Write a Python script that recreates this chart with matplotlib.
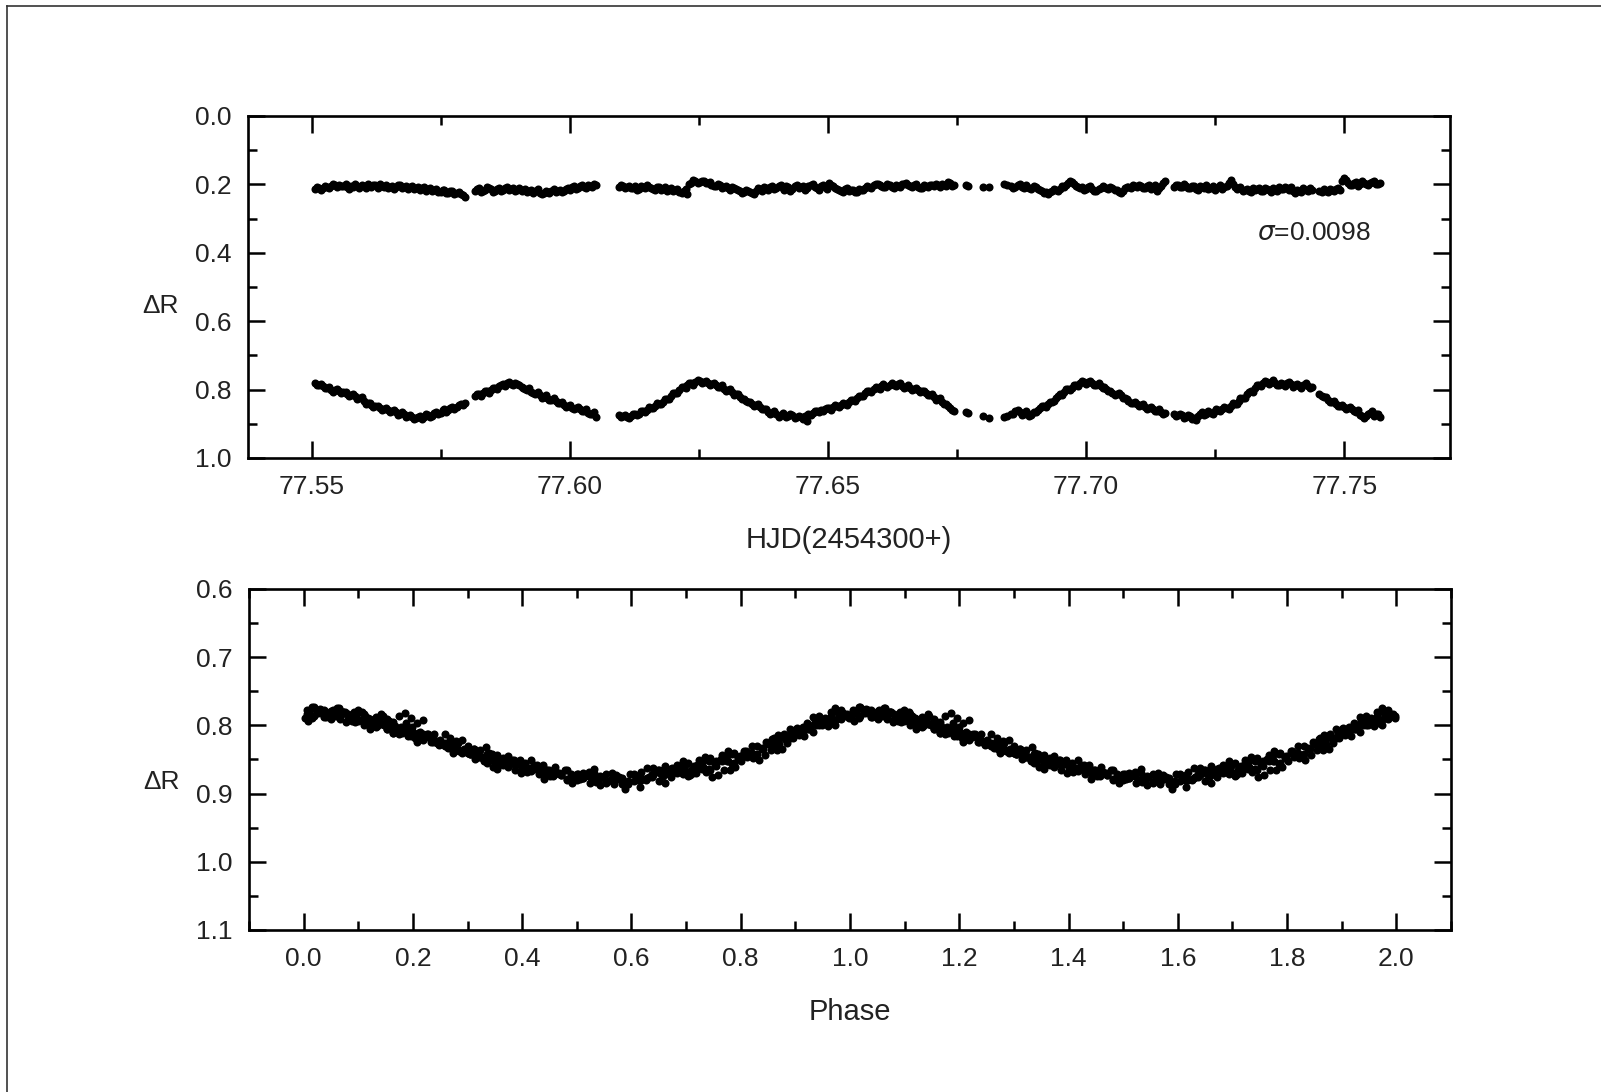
import matplotlib
matplotlib.use("Agg")
import matplotlib.pyplot as plt
from matplotlib.lines import Line2D
from matplotlib.ticker import MultipleLocator, FormatStrFormatter
import numpy as np

plt.rcParams['font.family'] = ['Liberation Sans', 'DejaVu Sans']

# HJD - 2454300
hjd = [
    77.5506, 77.5514, 77.5521, 77.5529, 77.5537, 77.5545, 77.5553, 77.5561, 77.5568, 77.5576,
    77.5584, 77.5592, 77.5600, 77.5608, 77.5615, 77.5623, 77.5631, 77.5639, 77.5647, 77.5655,
    77.5662, 77.5670, 77.5678, 77.5686, 77.5694, 77.5702, 77.5709, 77.5717, 77.5725, 77.5733,
    77.5741, 77.5749, 77.5756, 77.5764, 77.5772, 77.5780, 77.5788, 77.5796,
    77.5815, 77.5823, 77.5831, 77.5839, 77.5847, 77.5854, 77.5862, 77.5870, 77.5878, 77.5886,
    77.5894, 77.5902, 77.5909, 77.5917, 77.5925, 77.5933, 77.5941, 77.5949, 77.5956, 77.5964,
    77.5972, 77.5980, 77.5988, 77.5996, 77.6003, 77.6011, 77.6019, 77.6027, 77.6035, 77.6043,
    77.6051,
    77.6094, 77.6102, 77.6110, 77.6118, 77.6126, 77.6133, 77.6141, 77.6149, 77.6157, 77.6165,
    77.6173, 77.6180, 77.6188, 77.6196, 77.6204, 77.6212, 77.6220, 77.6227, 77.6235, 77.6243,
    77.6251, 77.6259, 77.6267, 77.6274, 77.6282, 77.6290, 77.6298, 77.6306, 77.6314, 77.6321,
    77.6329, 77.6337, 77.6345, 77.6353, 77.6361, 77.6368, 77.6376, 77.6384, 77.6392, 77.6400,
    77.6408, 77.6415, 77.6423, 77.6431, 77.6439, 77.6447, 77.6455, 77.6462, 77.6470, 77.6478,
    77.6486, 77.6494, 77.6502, 77.6509, 77.6517, 77.6525, 77.6533, 77.6541, 77.6549, 77.6556,
    77.6564, 77.6572, 77.6580, 77.6588, 77.6596, 77.6603, 77.6611, 77.6619, 77.6627, 77.6635,
    77.6643, 77.6650, 77.6658, 77.6666, 77.6674, 77.6682, 77.6690, 77.6697, 77.6705, 77.6713,
    77.6721, 77.6729, 77.6737, 77.6744,
    77.6767, 77.6772, 77.6800, 77.6811, 77.6840, 77.6847,
    77.6855, 77.6863, 77.6871, 77.6879, 77.6886, 77.6894, 77.6902, 77.6910, 77.6918, 77.6926,
    77.6934, 77.6941, 77.6949, 77.6957, 77.6965, 77.6973, 77.6981, 77.6988, 77.6996, 77.7004,
    77.7012, 77.7020, 77.7028, 77.7035, 77.7043, 77.7051, 77.7059, 77.7067, 77.7075, 77.7082,
    77.7090, 77.7098, 77.7106, 77.7114, 77.7122, 77.7129, 77.7137, 77.7145, 77.7153,
    77.7170, 77.7178, 77.7186, 77.7194, 77.7201, 77.7209, 77.7217, 77.7225, 77.7233, 77.7241,
    77.7249, 77.7256, 77.7264, 77.7272, 77.7280, 77.7288, 77.7296, 77.7303, 77.7311, 77.7319,
    77.7327, 77.7335, 77.7343, 77.7350, 77.7358, 77.7366, 77.7374, 77.7382, 77.7390, 77.7397,
    77.7405, 77.7413, 77.7421, 77.7429, 77.7437, 77.7452, 77.7460, 77.7468, 77.7476, 77.7484,
    77.7492, 77.7499, 77.7507, 77.7515, 77.7523, 77.7531, 77.7539, 77.7546, 77.7554, 77.7562,
    77.7570,
    # in-between exposures
    77.5510, 77.5518, 77.5525, 77.5533, 77.5541, 77.5549, 77.5557, 77.5565, 77.5572, 77.5580,
    77.5588, 77.5596, 77.5604, 77.5612, 77.5619, 77.5627, 77.5635, 77.5643, 77.5651, 77.5659,
    77.5666, 77.5674, 77.5682, 77.5690, 77.5698, 77.5706, 77.5713, 77.5721, 77.5729, 77.5737,
    77.5745, 77.5753, 77.5760, 77.5768, 77.5776, 77.5784, 77.5792,
    77.5819, 77.5827, 77.5835, 77.5843, 77.5851, 77.5858, 77.5866, 77.5874, 77.5882, 77.5890,
    77.5898, 77.5906, 77.5913, 77.5921, 77.5929, 77.5937, 77.5945, 77.5953, 77.5960, 77.5968,
    77.5976, 77.5984, 77.5992, 77.6000, 77.6007, 77.6015, 77.6023, 77.6031, 77.6039, 77.6047,
    77.6098, 77.6106, 77.6114, 77.6122, 77.6130, 77.6137, 77.6145, 77.6153, 77.6161, 77.6169,
    77.6177, 77.6184, 77.6192, 77.6200, 77.6208, 77.6216, 77.6224, 77.6231, 77.6239, 77.6247,
    77.6255, 77.6263, 77.6271, 77.6278, 77.6286, 77.6294, 77.6302, 77.6310, 77.6318, 77.6325,
    77.6333, 77.6341, 77.6349, 77.6357, 77.6365, 77.6372, 77.6380, 77.6388, 77.6396, 77.6404,
    77.6412, 77.6419, 77.6427, 77.6435, 77.6443, 77.6451, 77.6459, 77.6466, 77.6474, 77.6482,
    77.6490, 77.6498, 77.6506, 77.6513, 77.6521, 77.6529, 77.6537, 77.6545, 77.6553, 77.6560,
    77.6568, 77.6576, 77.6584, 77.6592, 77.6600, 77.6607, 77.6615, 77.6623, 77.6631, 77.6639,
    77.6647, 77.6654, 77.6662, 77.6670, 77.6678, 77.6686, 77.6694, 77.6701, 77.6709, 77.6717,
    77.6725, 77.6733, 77.6741,
    77.6859, 77.6867, 77.6875, 77.6883, 77.6890, 77.6898, 77.6906, 77.6914, 77.6922, 77.6930,
    77.6938, 77.6945, 77.6953, 77.6961, 77.6969, 77.6977, 77.6985, 77.6992, 77.7000, 77.7008,
    77.7016, 77.7024, 77.7032, 77.7039, 77.7047, 77.7055, 77.7063, 77.7071, 77.7079, 77.7086,
    77.7094, 77.7102, 77.7110, 77.7118, 77.7126, 77.7133, 77.7141, 77.7149,
    77.7174, 77.7182, 77.7190, 77.7197, 77.7205, 77.7213, 77.7221, 77.7229, 77.7237, 77.7245,
    77.7252, 77.7260, 77.7268, 77.7276, 77.7284, 77.7292, 77.7299, 77.7307, 77.7315, 77.7323,
    77.7331, 77.7339, 77.7346, 77.7354, 77.7362, 77.7370, 77.7378, 77.7386, 77.7393, 77.7401,
    77.7409, 77.7417, 77.7425, 77.7433, 77.7456, 77.7464, 77.7472, 77.7480, 77.7488, 77.7495,
    77.7503, 77.7511, 77.7519, 77.7527, 77.7535, 77.7542, 77.7550, 77.7558, 77.7566,
]

# delta R of the variable
dr_var = [
    0.782, 0.786, 0.790, 0.794, 0.800, 0.802, 0.805, 0.808, 0.812, 0.817,
    0.819, 0.826, 0.832, 0.840, 0.846, 0.849, 0.855, 0.856, 0.861, 0.864,
    0.866, 0.870, 0.872, 0.877, 0.880, 0.884, 0.878, 0.881, 0.873, 0.876,
    0.866, 0.868, 0.858, 0.861, 0.852, 0.850, 0.842, 0.838,
    0.820, 0.813, 0.811, 0.805, 0.800, 0.794, 0.790, 0.784, 0.781, 0.783,
    0.780, 0.788, 0.794, 0.801, 0.806, 0.813, 0.816, 0.821, 0.824, 0.830,
    0.833, 0.840, 0.846, 0.849, 0.853, 0.855, 0.858, 0.862, 0.868, 0.872,
    0.879,
    0.874, 0.877, 0.881, 0.876, 0.872, 0.870, 0.864, 0.859, 0.853, 0.848,
    0.841, 0.835, 0.827, 0.819, 0.810, 0.800, 0.793, 0.786, 0.782, 0.779,
    0.776, 0.779, 0.781, 0.783, 0.787, 0.791, 0.797, 0.802, 0.808, 0.813,
    0.821, 0.828, 0.836, 0.842, 0.846, 0.851, 0.858, 0.865, 0.869, 0.872,
    0.875, 0.873, 0.876, 0.874, 0.879, 0.881, 0.876, 0.871, 0.868, 0.863,
    0.860, 0.858, 0.855, 0.851, 0.848, 0.844, 0.841, 0.837, 0.831, 0.826,
    0.819, 0.811, 0.803, 0.798, 0.794, 0.790, 0.789, 0.786, 0.788, 0.785,
    0.789, 0.792, 0.796, 0.798, 0.801, 0.805, 0.811, 0.815, 0.821, 0.827,
    0.836, 0.843, 0.855, 0.864,
    0.866, 0.869, 0.878, 0.883, 0.880, 0.876,
    0.872, 0.862, 0.866, 0.870, 0.868, 0.873, 0.866, 0.853, 0.848, 0.843,
    0.836, 0.826, 0.814, 0.806, 0.799, 0.794, 0.786, 0.782, 0.778, 0.777,
    0.781, 0.786, 0.789, 0.793, 0.803, 0.811, 0.814, 0.817, 0.826, 0.833,
    0.838, 0.842, 0.846, 0.850, 0.854, 0.857, 0.862, 0.865, 0.868,
    0.871, 0.875, 0.874, 0.879, 0.877, 0.882, 0.878, 0.866, 0.871, 0.868,
    0.864, 0.861, 0.857, 0.853, 0.848, 0.841, 0.833, 0.824, 0.814, 0.805,
    0.796, 0.786, 0.781, 0.778, 0.777, 0.780, 0.786, 0.784, 0.781, 0.783,
    0.788, 0.790, 0.786, 0.789, 0.792, 0.812, 0.823, 0.830, 0.836, 0.842,
    0.848, 0.851, 0.855, 0.858, 0.866, 0.873, 0.884, 0.870, 0.864, 0.872,
    0.879,
    # in-between exposures
    0.788, 0.783, 0.795, 0.793, 0.806, 0.798, 0.811, 0.806, 0.819, 0.813,
    0.828, 0.823, 0.841, 0.838, 0.852, 0.847, 0.861, 0.853, 0.867, 0.861,
    0.874, 0.866, 0.880, 0.874, 0.887, 0.879, 0.886, 0.872, 0.880, 0.868,
    0.872, 0.861, 0.866, 0.853, 0.856, 0.844, 0.846,
    0.814, 0.818, 0.805, 0.810, 0.796, 0.799, 0.786, 0.789, 0.777, 0.786,
    0.784, 0.792, 0.799, 0.796, 0.811, 0.807, 0.824, 0.816, 0.829, 0.824,
    0.838, 0.835, 0.850, 0.844, 0.858, 0.851, 0.863, 0.858, 0.872, 0.866,
    0.880, 0.873, 0.884, 0.870, 0.875, 0.863, 0.866, 0.852, 0.855, 0.840,
    0.842, 0.827, 0.828, 0.811, 0.809, 0.792, 0.795, 0.780, 0.786, 0.773,
    0.781, 0.774, 0.786, 0.781, 0.792, 0.787, 0.804, 0.797, 0.815, 0.812,
    0.827, 0.834, 0.835, 0.849, 0.842, 0.857, 0.856, 0.870, 0.864, 0.879,
    0.869, 0.880, 0.871, 0.884, 0.876, 0.886, 0.893, 0.874, 0.862, 0.866,
    0.864, 0.853, 0.859, 0.846, 0.852, 0.838, 0.845, 0.830, 0.834, 0.818,
    0.820, 0.804, 0.806, 0.792, 0.797, 0.784, 0.793, 0.780, 0.790, 0.781,
    0.795, 0.788, 0.801, 0.794, 0.808, 0.803, 0.817, 0.812, 0.829, 0.826,
    0.842, 0.847, 0.861,
    0.870, 0.859, 0.873, 0.864, 0.876, 0.866, 0.861, 0.847, 0.851, 0.836,
    0.834, 0.818, 0.816, 0.799, 0.801, 0.786, 0.789, 0.776, 0.783, 0.774,
    0.787, 0.781, 0.795, 0.799, 0.805, 0.816, 0.810, 0.824, 0.828, 0.840,
    0.836, 0.847, 0.841, 0.856, 0.851, 0.862, 0.858, 0.871,
    0.877, 0.870, 0.883, 0.873, 0.886, 0.890, 0.872, 0.874, 0.863, 0.870,
    0.858, 0.864, 0.851, 0.856, 0.840, 0.843, 0.825, 0.826, 0.806, 0.806,
    0.788, 0.789, 0.775, 0.783, 0.773, 0.787, 0.780, 0.790, 0.778, 0.791,
    0.783, 0.795, 0.782, 0.796, 0.819, 0.822, 0.835, 0.832, 0.847, 0.845,
    0.857, 0.851, 0.864, 0.861, 0.878, 0.876, 0.868, 0.877, 0.870,
]

# delta R of the comparison star (check)
dr_comp = [
    0.214, 0.212, 0.210, 0.208, 0.205, 0.203, 0.201, 0.205, 0.209, 0.204,
    0.200, 0.211, 0.206, 0.199, 0.209, 0.203, 0.198, 0.207, 0.212, 0.204,
    0.209, 0.201, 0.208, 0.213, 0.205, 0.210, 0.216, 0.208, 0.213, 0.219,
    0.214, 0.221, 0.217, 0.224, 0.219, 0.226, 0.229, 0.236,
    0.218, 0.212, 0.220, 0.209, 0.214, 0.219, 0.211, 0.216, 0.208, 0.214,
    0.218, 0.212, 0.217, 0.222, 0.215, 0.219, 0.224, 0.226, 0.221, 0.218,
    0.223, 0.215, 0.219, 0.212, 0.209, 0.213, 0.206, 0.208, 0.203, 0.207,
    0.202,
    0.207, 0.204, 0.209, 0.212, 0.206, 0.214, 0.208, 0.203, 0.211, 0.215,
    0.209, 0.213, 0.218, 0.212, 0.216, 0.221, 0.219, 0.228, 0.196, 0.191,
    0.194, 0.189, 0.197, 0.201, 0.206, 0.203, 0.209, 0.212, 0.207, 0.214,
    0.219, 0.223, 0.218, 0.224, 0.220, 0.214, 0.209, 0.216, 0.205, 0.211,
    0.203, 0.217, 0.209, 0.214, 0.201, 0.208, 0.215, 0.206, 0.199, 0.212,
    0.204, 0.209, 0.196, 0.205, 0.213, 0.218, 0.214, 0.219, 0.215, 0.221,
    0.217, 0.212, 0.208, 0.202, 0.198, 0.205, 0.209, 0.203, 0.211, 0.206,
    0.200, 0.196, 0.204, 0.203, 0.207, 0.210, 0.205, 0.201, 0.206, 0.203,
    0.199, 0.204, 0.196, 0.201,
    0.203, 0.205, 0.207, 0.209, 0.199, 0.201,
    0.205, 0.209, 0.199, 0.212, 0.207, 0.214, 0.209, 0.217, 0.224, 0.228,
    0.219, 0.215, 0.213, 0.208, 0.196, 0.192, 0.205, 0.212, 0.216, 0.209,
    0.213, 0.218, 0.211, 0.207, 0.214, 0.210, 0.217, 0.226, 0.212, 0.207,
    0.203, 0.209, 0.205, 0.210, 0.201, 0.208, 0.218, 0.204, 0.189,
    0.207, 0.201, 0.209, 0.204, 0.212, 0.206, 0.215, 0.209, 0.203, 0.211,
    0.216, 0.208, 0.213, 0.205, 0.188, 0.207, 0.212, 0.219, 0.214, 0.221,
    0.216, 0.210, 0.218, 0.213, 0.222, 0.215, 0.209, 0.214, 0.211, 0.207,
    0.224, 0.218, 0.212, 0.220, 0.215, 0.219, 0.214, 0.221, 0.217, 0.213,
    0.216, 0.182, 0.197, 0.201, 0.194, 0.199, 0.196, 0.202, 0.193, 0.198,
    0.195,
    # in-between exposures
    0.209, 0.216, 0.206, 0.211, 0.199, 0.207, 0.204, 0.198, 0.213, 0.207,
    0.204, 0.203, 0.212, 0.206, 0.201, 0.210, 0.206, 0.202, 0.207, 0.214,
    0.203, 0.211, 0.204, 0.208, 0.214, 0.207, 0.212, 0.218, 0.210, 0.215,
    0.222, 0.216, 0.226, 0.220, 0.228, 0.222, 0.232,
    0.214, 0.223, 0.215, 0.212, 0.221, 0.214, 0.220, 0.212, 0.217, 0.210,
    0.215, 0.220, 0.213, 0.218, 0.225, 0.214, 0.228, 0.219, 0.224, 0.214,
    0.219, 0.222, 0.214, 0.217, 0.205, 0.211, 0.203, 0.210, 0.206, 0.200,
    0.203, 0.211, 0.205, 0.210, 0.216, 0.206, 0.212, 0.207, 0.214, 0.208,
    0.216, 0.209, 0.215, 0.219, 0.213, 0.224, 0.213, 0.199, 0.188, 0.196,
    0.190, 0.195, 0.193, 0.204, 0.199, 0.210, 0.205, 0.216, 0.210, 0.217,
    0.224, 0.216, 0.221, 0.227, 0.212, 0.219, 0.211, 0.207, 0.214, 0.206,
    0.212, 0.206, 0.218, 0.206, 0.211, 0.204, 0.210, 0.203, 0.207, 0.215,
    0.201, 0.213, 0.201, 0.210, 0.216, 0.221, 0.211, 0.217, 0.222, 0.213,
    0.215, 0.205, 0.211, 0.199, 0.203, 0.208, 0.200, 0.207, 0.202, 0.209,
    0.198, 0.201, 0.207, 0.199, 0.211, 0.203, 0.208, 0.203, 0.199, 0.207,
    0.201, 0.193, 0.205,
    0.211, 0.203, 0.207, 0.203, 0.211, 0.204, 0.213, 0.220, 0.222, 0.223,
    0.213, 0.219, 0.205, 0.201, 0.189, 0.199, 0.209, 0.207, 0.213, 0.206,
    0.219, 0.214, 0.206, 0.212, 0.208, 0.215, 0.222, 0.219, 0.208, 0.212,
    0.206, 0.201, 0.212, 0.206, 0.213, 0.203, 0.211, 0.197,
    0.203, 0.208, 0.198, 0.210, 0.205, 0.213, 0.204, 0.210, 0.214, 0.206,
    0.212, 0.203, 0.209, 0.196, 0.200, 0.214, 0.209, 0.216, 0.220, 0.211,
    0.214, 0.219, 0.210, 0.217, 0.212, 0.218, 0.213, 0.208, 0.216, 0.219,
    0.215, 0.222, 0.217, 0.212, 0.222, 0.218, 0.213, 0.220, 0.210, 0.190,
    0.188, 0.203, 0.196, 0.205, 0.191, 0.200, 0.197, 0.190, 0.200,
]

period = 0.0372      # days
epoch = 77.5868      # HJD - 2454300 of phase zero
sigma_text = r'$\sigma$=0.0098'

t = np.array(hjd)
phase = ((t - epoch) / period) % 1.0

fig = plt.figure(figsize=(16.01, 10.92), dpi=100)
ax1 = fig.add_axes([0.1549, 0.5806, 0.7508, 0.3132])
ax2 = fig.add_axes([0.1555, 0.1484, 0.7508, 0.3123])

mk = dict(linestyle='none', marker='o', color='black', ms=5.8, mew=0)
ax1.plot(hjd, dr_comp, **mk)
ax1.plot(hjd, dr_var, **mk)
ax2.plot(phase, dr_var, **mk)
ax2.plot(phase + 1.0, dr_var, **mk)

ax1.set_xlim(77.5376, 77.7705)
ax1.set_ylim(1.0, 0.0)
ax1.xaxis.set_major_locator(MultipleLocator(0.05))
ax1.xaxis.set_minor_locator(MultipleLocator(0.025))
ax1.yaxis.set_major_locator(MultipleLocator(0.2))
ax1.yaxis.set_minor_locator(MultipleLocator(0.1))
ax1.xaxis.set_major_formatter(FormatStrFormatter('%.2f'))
ax1.yaxis.set_major_formatter(FormatStrFormatter('%.1f'))

ax2.set_xlim(-0.1, 2.1)
ax2.set_ylim(1.1, 0.6)
ax2.xaxis.set_major_locator(MultipleLocator(0.2))
ax2.xaxis.set_minor_locator(MultipleLocator(0.1))
ax2.yaxis.set_major_locator(MultipleLocator(0.1))
ax2.yaxis.set_minor_locator(MultipleLocator(0.05))
ax2.xaxis.set_major_formatter(FormatStrFormatter('%.1f'))
ax2.yaxis.set_major_formatter(FormatStrFormatter('%.1f'))

for ax in (ax1, ax2):
    ax.tick_params(which='both', direction='in', top=True, right=True,
                   width=1.8, labelsize=19, pad=12, labelcolor='#222222')
    ax.tick_params(which='major', length=12)
    ax.tick_params(which='minor', length=6.5)
    for sp in ax.spines.values():
        sp.set_linewidth(1.9)

ax1.set_xlabel('HJD(2454300+)', fontsize=21, color='#222222')
ax1.xaxis.set_label_coords(0.5, -0.20)
ax2.set_xlabel('Phase', fontsize=21, color='#222222')
ax2.xaxis.set_label_coords(0.5, -0.20)
ax1.set_ylabel('ΔR', fontsize=19, rotation=0, ha='center', va='center', color='#222222')
ax1.yaxis.set_label_coords(-0.073, 0.444)
ax2.set_ylabel('ΔR', fontsize=19, rotation=0, ha='center', va='center', color='#222222')
ax2.yaxis.set_label_coords(-0.073, 0.433)

ax1.text(0.8865, 0.6585, sigma_text, transform=ax1.transAxes, ha='center', va='center',
         fontsize=19, color='#222222')

# page frame of the original scan (left and top edges only)
fx, fy = 7 / 1601, 1 - 6 / 1092
fig.add_artist(Line2D([fx, fx], [0, fy], transform=fig.transFigure, color='#333333', lw=1.2))
fig.add_artist(Line2D([fx, 1], [fy, fy], transform=fig.transFigure, color='#333333', lw=1.2))

fig.savefig('out.png', dpi=100)
